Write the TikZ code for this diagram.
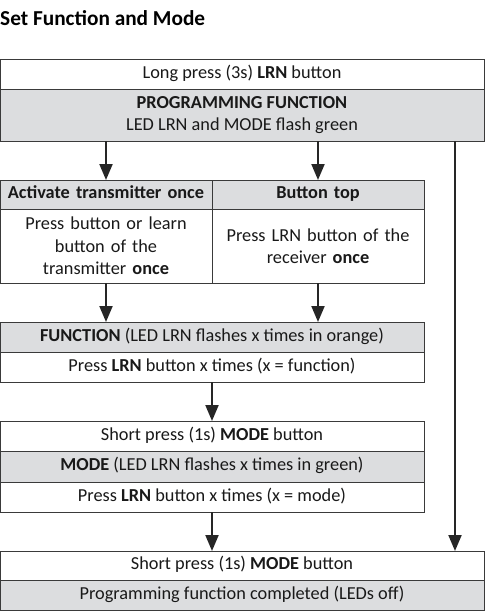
\documentclass[tikz,border=0pt]{standalone}
\usepackage{fontspec}
\setmainfont{Carlito}
\usetikzlibrary{arrows.meta}
\definecolor{rowgray}{HTML}{DCDDDF}
\definecolor{edge}{HTML}{3A3A3A}
\begin{document}
\begin{tikzpicture}[x=1pt,y=-1pt,
  cell/.style={draw=edge, line width=1pt, inner sep=0pt, outer sep=0pt,
    anchor=north west, align=center, text=black!90,
    font=\fontsize{18.3}{22.5}\selectfont},
  oneline/.style={text height=12.5pt, text depth=4pt},
  wide/.style={cell, minimum width=484pt},
  mid/.style={cell, minimum width=424pt},
  half/.style={cell, minimum width=212pt, text width=204pt},
  shaded/.style={fill=rowgray},
  plain/.style={fill=white},
  flow/.style={line width=2pt, draw=black!85,
    -{Triangle[width=13pt,length=16pt]}}]
\useasboundingbox (0,0) rectangle (487,613);

% heading
\node[anchor=west, inner sep=0pt, font=\fontsize{21.3}{24}\selectfont\bfseries]
  (title) at (0,18.5) {Set Function and Mode};

% entry into programming mode
\node[wide, plain, oneline, minimum height=30pt] (top1) at (0,59)
  {Long press (3s) \textbf{LRN} button};
\node[wide, shaded, minimum height=52pt] (top2) at (0,89)
  {\textbf{PROGRAMMING FUNCTION}\\LED LRN and MODE flash green};

% two ways to pick the function
\node[half, shaded, oneline, minimum height=29pt] (mh1) at (0,180)
  {\textbf{Activate transmitter once}};
\node[half, shaded, oneline, minimum height=29pt] (mh2) at (212,180)
  {\textbf{Button top}};
\node[half, plain, minimum height=74pt] (mb1) at (0,209)
  {Press button or learn\\button of the\\transmitter \textbf{once}};
\node[half, plain, minimum height=74pt] (mb2) at (212,209)
  {Press LRN button of the\\receiver \textbf{once}};

% function selection
\node[mid, shaded, oneline, minimum height=30pt] (f1) at (0,322)
  {\textbf{FUNCTION} (LED LRN flashes x times in orange)};
\node[mid, plain, oneline, minimum height=30pt] (f2) at (0,352)
  {Press \textbf{LRN} button x times (x = function)};

% mode selection
\node[mid, plain, oneline, minimum height=30pt] (m1) at (0,421)
  {Short press (1s) \textbf{MODE} button};
\node[mid, shaded, oneline, minimum height=31pt] (m2) at (0,451)
  {\textbf{MODE} (LED LRN flashes x times in green)};
\node[mid, plain, oneline, minimum height=30pt] (m3) at (0,482)
  {Press \textbf{LRN} button x times (x = mode)};

% finish
\node[wide, plain, oneline, minimum height=29pt] (b1) at (0,551)
  {Short press (1s) \textbf{MODE} button};
\node[wide, shaded, oneline, minimum height=30pt] (b2) at (0,580)
  {Programming function completed (LEDs off)};

% connectors
\draw[flow] (mh1.north |- top2.south) -- (mh1.north);
\draw[flow] (mh2.north |- top2.south) -- (mh2.north);
\draw[flow] (mb1.south) -- (mb1.south |- f1.north);
\draw[flow] (mb2.south) -- (mb2.south |- f1.north);
\draw[flow] (f2.south) -- (m1.north);
\draw[flow] (m3.south) -- (m3.south |- b1.north);
\coordinate (bypass) at (455,141);
\draw[flow] (bypass) -- (bypass |- b1.north);
\end{tikzpicture}
\end{document}
